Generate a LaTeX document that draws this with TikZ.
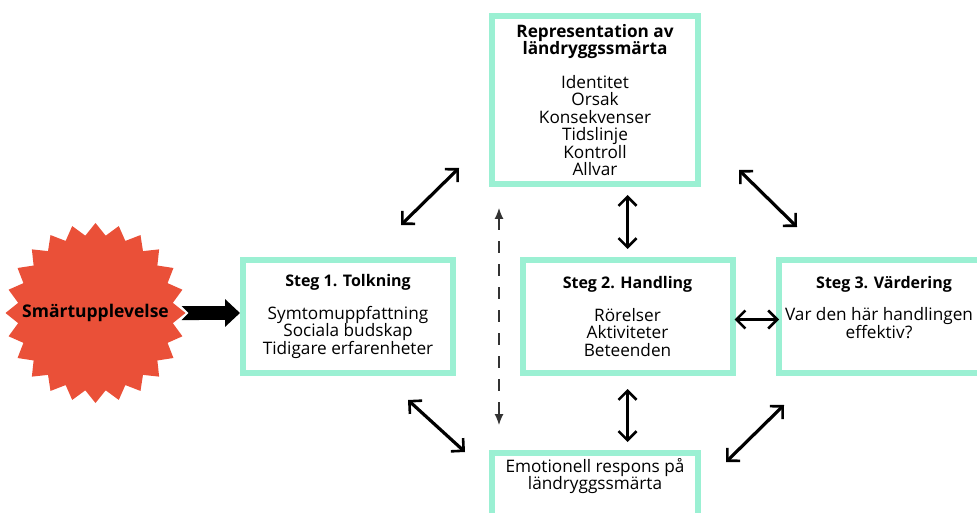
\documentclass[tikz,border=0pt]{standalone}
\usepackage{fontspec}
\setmainfont{Open Sans}
\usetikzlibrary{shapes.geometric, arrows.meta, positioning, calc}
\definecolor{mint}{RGB}{155,240,211}
\definecolor{starred}{RGB}{234,80,56}
\newcommand{\txtsize}{\fontsize{17.2}{17.5}\selectfont}
\newcommand{\stegsize}{\fontsize{16}{17.5}\selectfont\bfseries}
\tikzset{
    box/.style={draw=mint, line width=6pt, align=center, font=\txtsize, minimum width=210pt, minimum height=113pt, inner sep=0pt},
    txt/.style={align=center, font=\txtsize, inner sep=0pt},
    burst/.style={circle, minimum size=180pt, inner sep=0pt, font=\fontsize{17.5}{18}\selectfont\bfseries},
    sketch/.style={{Straight Barb[length=9pt,width=18pt,line width=2.6pt]}-{Straight Barb[length=9pt,width=18pt,line width=2.6pt]}, line width=3.2pt, line cap=round},
    guide/.style={{Latex[length=11pt,width=9pt]}-{Latex[length=11pt,width=9pt]}, line width=1.2pt, dash pattern=on 12pt off 11pt, black!80},
    fatarrow/.style={{Triangle Cap[reversed]}-{Triangle[length=15pt,width=27pt]}, line width=14pt}
}
\begin{document}
\begin{tikzpicture}[x=1pt, y=1pt]
    \useasboundingbox (0,0) rectangle (977,512);
    % Starburst
    \coordinate (sc) at (95.5,199);
    \fill [starred] ($(sc)+(0:90)$)
        \foreach \i in {1,...,47} { -- ($(sc)+({\i*7.5}:{mod(\i,2)==0 ? 90 : 78})$) } -- cycle;
    % Nodes
    \node (star) [burst] at (sc) {Smärtupplevelse};
    \node (rep) [box, minimum width=206pt, minimum height=168pt] at (595,412) {\textbf{Representation av}\\\textbf{ländryggssmärta}\\[16pt]Identitet\\Orsak\\Konsekvenser\\Tidslinje\\Kontroll\\Allvar};
    \node (s1) [box] at (348,195.5) {{\stegsize Steg 1. Tolkning}\\[15pt]Symtomuppfattning\\Sociala budskap\\Tidigare erfarenheter};
    \node (s2) [box] at (627.5,195.5) {{\stegsize Steg 2. Handling}\\[15pt]Rörelser\\Aktiviteter\\Beteenden};
    \node (s3) [box] at (884,195.5) {};
    \node (s3txt) [txt] at ($(s3.center)+(-5,9)$) {{\stegsize\hspace*{10pt}Steg 3. Värdering}\\[15pt]Var den här handlingen\\effektiv?};
    \node (emo) [box, minimum width=206pt] at (595,2.5) {};
    \node (emotxt) [txt, below=8pt of emo.north] {Emotionell respons på\\ländryggssmärta};

    % Flows
    \draw [fatarrow] ($(star.east)+(-4,0)$) -- (star.east -| s1.west);
    \draw [sketch] ($(s1.north east)+(-55,32)$) -- ($(rep.south west)+(-30,19)$);
    \draw [sketch] ($(s2.north)+(0,8)$) -- ($(s2.north |- rep.south)+(0,-8)$);
    \draw [sketch] ($(rep.south east)+(38,17)$) -- ($(s3.north west)+(21,30)$);
    \draw [sketch] ($(s2.east)+(-1,-3)$) -- ($(s3.west)+(3,-3)$);
    \draw [sketch] ($(s1.south east)+(-48,-24)$) -- ($(emo.north west)+(-24,-2)$);
    \draw [sketch] ($(s2.south)+(0,-13)$) -- ($(s2.south |- emo.north)+(0,8)$);
    \draw [sketch] ($(s3.south west)+(8,-29)$) -- ($(emo.north east)+(25,-12)$);

    % Dashed link
    \draw [guide] ($(rep.south west)+(10,-21)$) -- ($(emo.north west)+(10,25)$);
\end{tikzpicture}
\end{document}
